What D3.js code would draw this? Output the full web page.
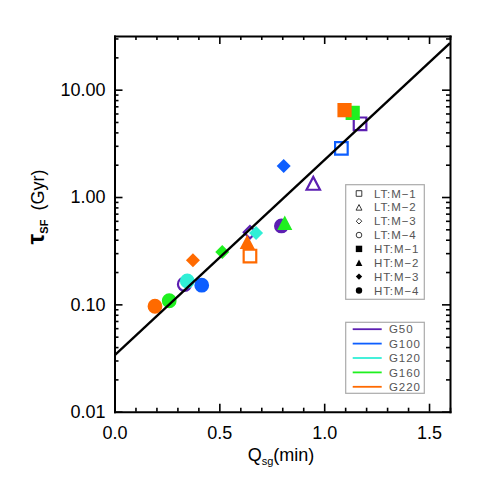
<!DOCTYPE html>
<html><head><meta charset="utf-8">
<script src="https://cdn.jsdelivr.net/npm/d3@7"></script>
<style>body{margin:0;background:#fff}svg{display:block}</style>
</head><body><div id="chart"></div>
<script>
// ---- data ----
const groups = ["G50","G100","G120","G160","G220"];
const groupColors = ["#5c1fb2","#0d5eff","#30efd6","#1ff01f","#ff6a00"];
const models = ["LT:M\u22121","LT:M\u22122","LT:M\u22123","LT:M\u22124","HT:M\u22121","HT:M\u22122","HT:M\u22123","HT:M\u22124"];
const modelShapes = ["square","triangle","diamond","circle","square","triangle","diamond","circle"];
const modelFilled = [false,false,false,false,true,true,true,true];
// points: [group, model index, Qsg, tau]
const g50Points  = [["G50",0,1.171,4.81],["G50",1,0.948,1.34],["G50",2,0.646,0.47],["G50",3,0.334,0.154],["G50",7,0.796,0.538]];
const g100Points = [["G100",0,1.082,2.84],["G100",6,0.807,1.94],["G100",7,0.416,0.151]];
const g120Points = [["G120",6,0.675,0.462],["G120",7,0.347,0.165]];
const g160Points = [["G160",4,1.136,6.08],["G160",5,0.812,0.575],["G160",6,0.514,0.308],["G160",7,0.261,0.108]];
const g220Points = [["G220",4,1.097,6.44],["G220",5,0.633,0.382],["G220",0,0.646,0.282],["G220",6,0.374,0.258],["G220",7,0.193,0.096]];
const fitIntercept = 0.0334, fitSlope = 1.819;
const fitQ = [0, 1.6];
const xMajor = [0,0.5,1.0,1.5];
const xTickLabels = ["0.0","0.5","1.0","1.5"];
const yMajor = [0.01,0.1,1,10];
const yTickLabels = ["0.01","0.10","1.00","10.00"];

// ---- layout ----
const W=485,H=485;
const L=114.5,R=450,T=36,B=411.7;
const svg=d3.select("#chart").append("svg").attr("width",W).attr("height",H);
const x=d3.scaleLinear().domain([0,1.6]).range([L,R]);
const y=d3.scaleLog().domain([0.01,Math.pow(10,1.5)]).range([B,T]);
const font="'Liberation Sans', Arial, sans-serif";

// minor ticks
const xMinor=d3.range(0,1.61,0.1).map(v=>+v.toFixed(2)).filter(v=>!xMajor.some(m=>Math.abs(m-v)<1e-6));
const yMinor=[];
[0.01,0.1,1,10].forEach(d=>{for(let k=2;k<=9;k++){const v=d*k; if(v<=y.domain()[1]) yMinor.push(v);}});

function axis(gen, transform, vals, size, labels){
  const g=svg.append("g").attr("transform",transform)
   .call(gen.tickValues(vals).tickSizeInner(size).tickSizeOuter(0).tickFormat((d,i)=>labels?labels[i]:""));
  g.select(".domain").attr("stroke","#000").attr("stroke-width",2);
  g.selectAll(".tick line").attr("stroke","#000").attr("stroke-width",1.6);
  g.selectAll("text").attr("font-family",font).attr("font-size",18).attr("fill","#000");
  return g;
}
// bottom
const gb=axis(d3.axisBottom(x).tickPadding(15),`translate(0,${B})`,xMajor,-8,xTickLabels);
axis(d3.axisBottom(x),`translate(0,${B})`,xMinor,-4,null).select(".domain").remove();
// top
axis(d3.axisTop(x),`translate(0,${T})`,xMajor,-8,null);
axis(d3.axisTop(x),`translate(0,${T})`,xMinor,-4,null).select(".domain").remove();
// left
const gl=axis(d3.axisLeft(y).tickPadding(9),`translate(${L},0)`,yMajor,-8,yTickLabels);
axis(d3.axisLeft(y),`translate(${L},0)`,yMinor,-4,null).select(".domain").remove();
// right
axis(d3.axisRight(y),`translate(${R},0)`,yMajor,-8,null);
axis(d3.axisRight(y),`translate(${R},0)`,yMinor,-4,null).select(".domain").remove();
svg.selectAll(".domain").attr("stroke-linecap","square");

// symbol paths
function shapePath(shape,s){
  if(shape==="square") return `M${-s},${-s}H${s}V${s}H${-s}Z`;
  if(shape==="triangle") return `M${-s*1.05},${s}L${s*1.05},${s}L0,${-s}Z`;
  if(shape==="diamond") return `M0,${-s}L${s},0L0,${s}L${-s},0Z`;
  return `M${s},0A${s},${s} 0 1,1 ${-s},0A${s},${s} 0 1,1 ${s},0Z`;
}
const sizeFor={square:7.1,triangle:7.2,diamond:7,circle:7.4};
const allPoints=[...g50Points,...g100Points,...g120Points,...g160Points,...g220Points];
const clip=svg.append("clipPath").attr("id","pc").append("rect").attr("x",L).attr("y",T).attr("width",R-L).attr("height",B-T);
const pg=svg.append("g").attr("clip-path","url(#pc)");
pg.selectAll("path.pt").data(allPoints).enter().append("path").attr("class","pt")
  .attr("transform",d=>`translate(${x(d[2])},${y(d[3])})`)
  .attr("d",d=>{const sh=modelShapes[d[1]]; return shapePath(sh, modelFilled[d[1]]?sizeFor[sh]:sizeFor[sh]-0.8);})
  .attr("fill",d=>modelFilled[d[1]]?groupColors[groups.indexOf(d[0])]:"none")
  .attr("stroke",d=>modelFilled[d[1]]?"none":groupColors[groups.indexOf(d[0])])
  .attr("stroke-width",2.2);

// fit line
const line=d3.line().x(d=>x(d)).y(d=>y(fitIntercept*Math.pow(10,fitSlope*d)));
pg.append("path").attr("d",line(fitQ)).attr("fill","none").attr("stroke","#000").attr("stroke-width",2.4);

// legend 1
const lg1=svg.append("g");
lg1.append("rect").attr("x",345.7).attr("y",184.7).attr("width",78.6).attr("height",114.6)
  .attr("fill","#fff").attr("stroke","#aaa").attr("stroke-width",1.2);
models.forEach((m,i)=>{
  const yy=193.5+i*13.85;
  const sh=modelShapes[i];
  lg1.append("path").attr("transform",`translate(359,${yy})`)
    .attr("d",shapePath(sh, modelFilled[i]?3.2:2.8))
    .attr("fill",modelFilled[i]?"#000":"none").attr("stroke",modelFilled[i]?"none":"#222").attr("stroke-width",0.9);
  lg1.append("text").attr("x",374).attr("y",yy).attr("dy","0.36em").text(m)
    .attr("font-family",font).attr("font-size",11.5).attr("letter-spacing",0.9).attr("fill","#555");
});
// legend 2
const lg2=svg.append("g");
lg2.append("rect").attr("x",345.7).attr("y",322.3).attr("width",78.6).attr("height",71)
  .attr("fill","#fff").attr("stroke","#aaa").attr("stroke-width",1.2);
groups.forEach((g,i)=>{
  const yy=329.2+i*14.4;
  lg2.append("line").attr("x1",352.7).attr("x2",381.7).attr("y1",yy).attr("y2",yy)
    .attr("stroke",groupColors[i]).attr("stroke-width",1.8);
  lg2.append("text").attr("x",389).attr("y",yy).attr("dy","0.36em").text(g)
    .attr("font-family",font).attr("font-size",11.5).attr("letter-spacing",0.9).attr("fill","#555");
});

// axis titles
const xt=svg.append("text").attr("x",281).attr("y",461).attr("text-anchor","middle")
  .attr("font-family",font).attr("font-size",18).attr("fill","#000");
xt.append("tspan").text("Q");
xt.append("tspan").text("sg").attr("font-size",11).attr("dy",4);
xt.append("tspan").text("(min)").attr("dy",-4);
const yt=svg.append("text").attr("transform","translate(44,207) rotate(-90)").attr("text-anchor","middle")
  .attr("font-family",font).attr("font-size",18).attr("fill","#000");
yt.append("tspan").text("\u03c4").attr("font-size",24).attr("font-weight","bold");
yt.append("tspan").text("SF").attr("font-size",11).attr("dy",4).attr("font-weight","bold");
yt.append("tspan").text(" (Gyr)").attr("dy",-4).attr("dx",4);
</script></body></html>
